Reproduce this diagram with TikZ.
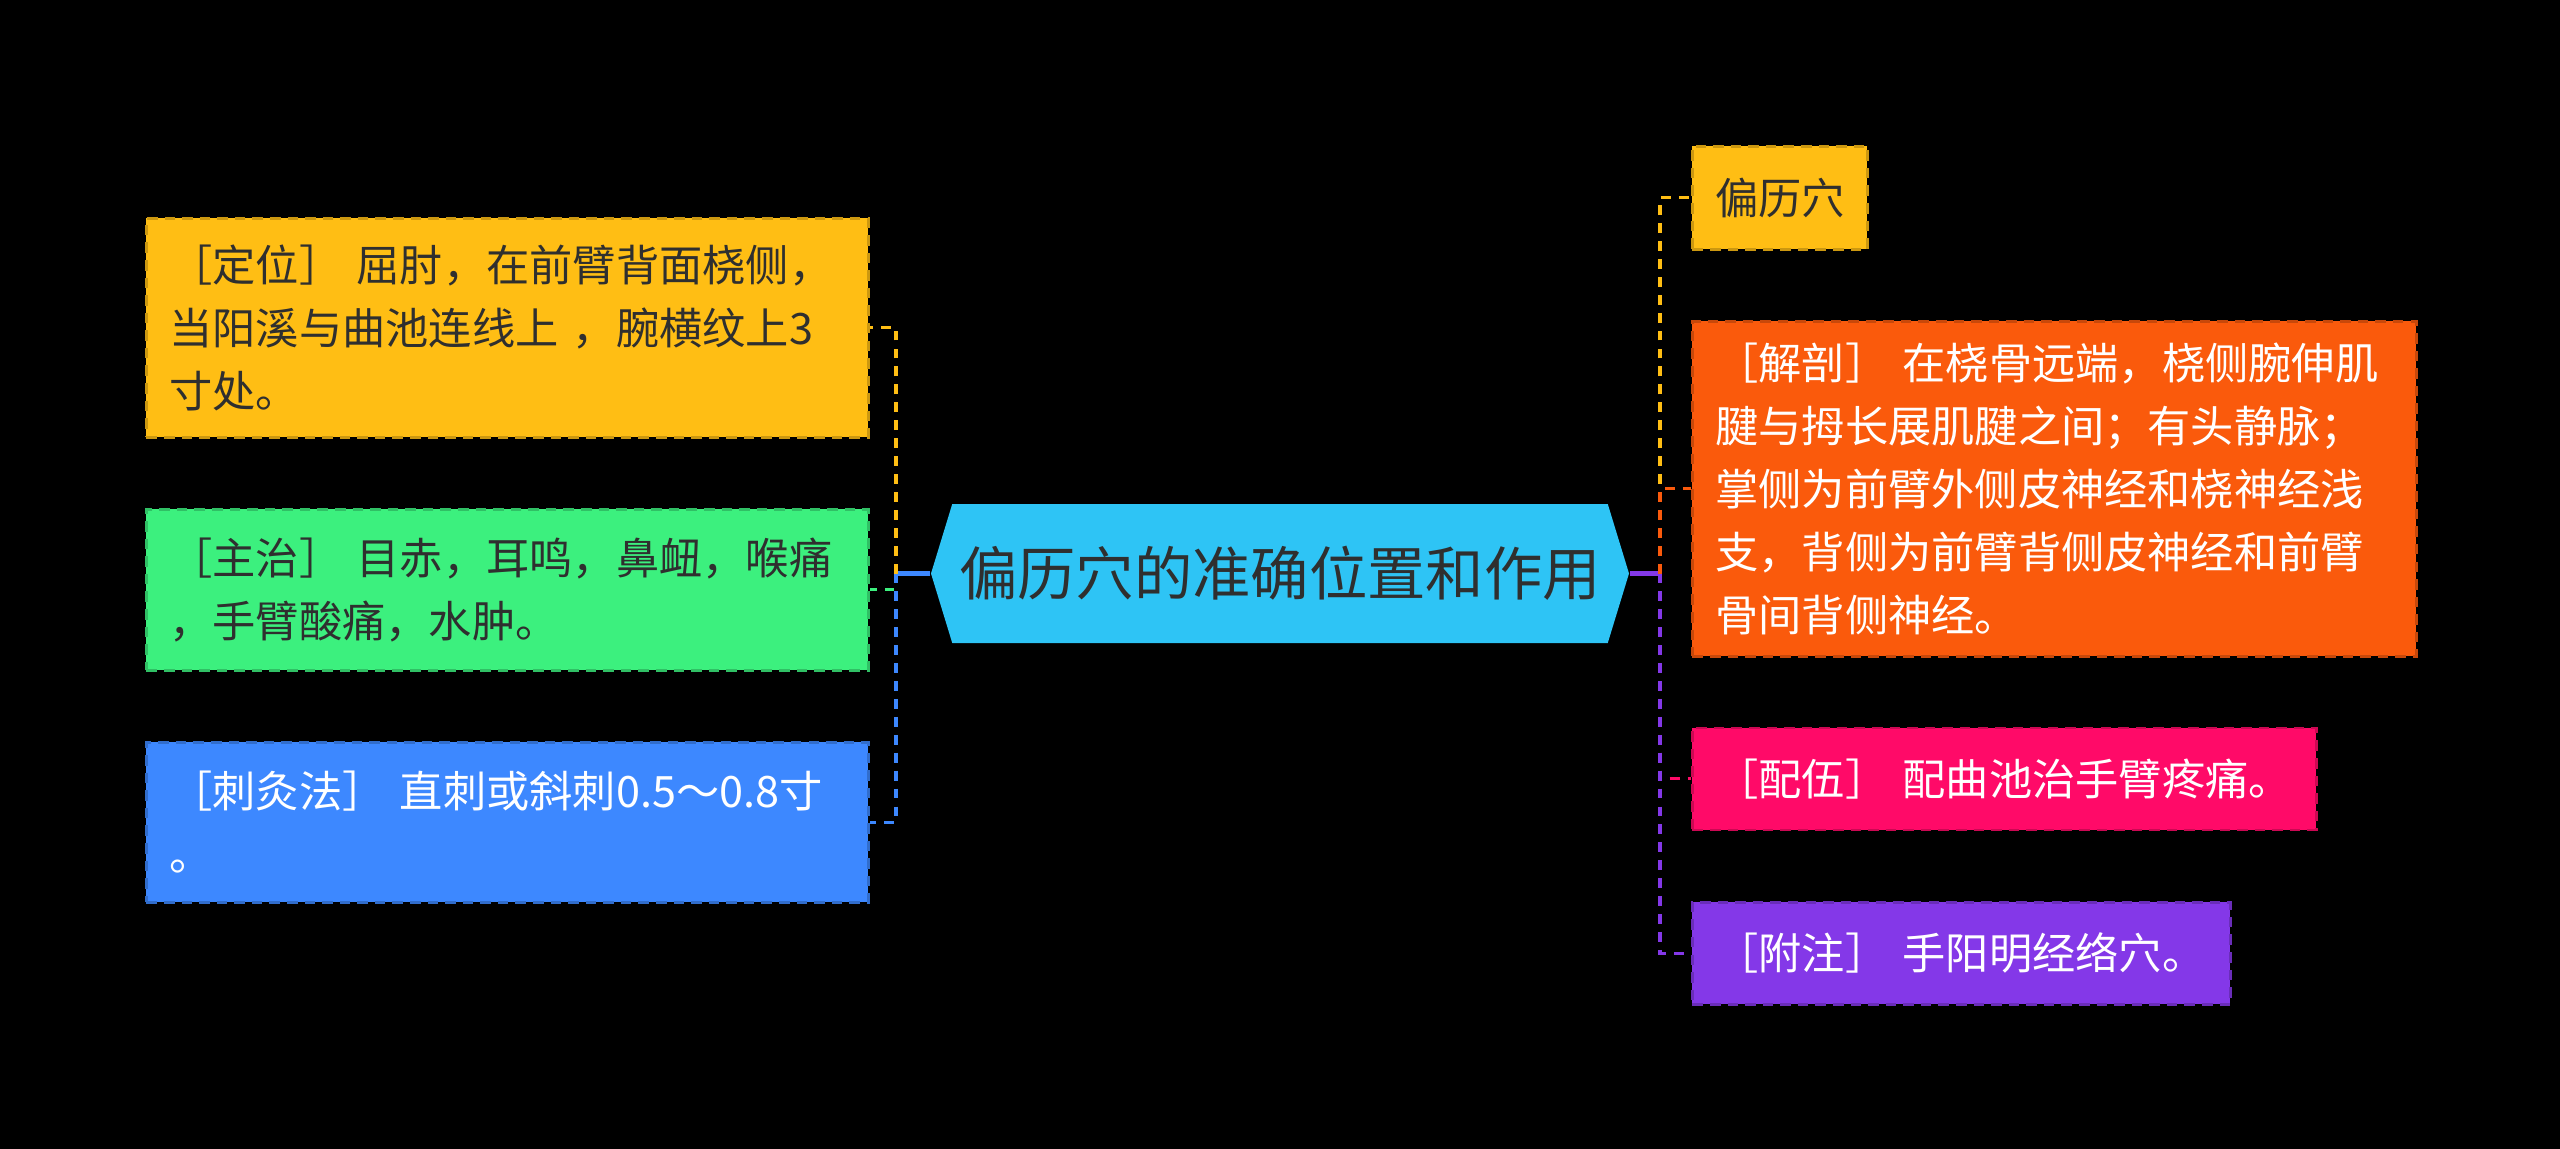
\documentclass[tikz,border=0pt]{standalone}
\usepackage{fontspec}
\newfontfamily\cjk{Noto Sans CJK SC}
\usetikzlibrary{shapes.symbols}
\definecolor{mYellow}{HTML}{FFBE14}
\definecolor{mGreen}{HTML}{3CF07E}
\definecolor{mBlue}{HTML}{3D88FF}
\definecolor{mCyan}{HTML}{2EC4F5}
\definecolor{mOrange}{HTML}{FA5A0C}
\definecolor{mPink}{HTML}{FF0A68}
\definecolor{mPurple}{HTML}{8438E8}
\definecolor{mDark}{HTML}{2F2F2F}

\begin{document}
\begin{tikzpicture}[
  x=1cm, y=-1cm,
  every node/.style={font=\cjk},
  topic/.style={
    signal, signal to=west and east,
    signal pointer angle=146,
    fill=mCyan, text=mDark,
    minimum width=6.98cm, minimum height=1.39cm,
    inner sep=0pt,
    font=\cjk\fontsize{16.6}{20}\selectfont
  },
  leaf/.style={
    rectangle, anchor=north west, align=left,
    inner xsep=0.23cm, inner ysep=0pt,
    line width=0.8pt, dash pattern=on 3pt off 2pt,
    font=\cjk\fontsize{12.3}{17.9}\selectfont
  },
  trunk/.style={line width=1.3pt},
  twig/.style={line width=0.9pt, dash pattern=on 2.8pt off 2.3pt}
]

\fill[black] (0,0) rectangle (25.6,11.49);
\useasboundingbox (0,0) rectangle (25.6,11.49);

\node[topic] (root) at (12.80,5.735) {偏历穴的准确位置和作用};

\node[leaf, fill=mYellow, draw=mYellow!80!black, text=mDark,
  text width=6.76cm, minimum height=2.19cm] (dingwei) at (1.45,2.17)
{［定位］ 屈肘，在前臂背面桡侧，\\当阳溪与曲池连线上 ，腕横纹上3\\寸处。};

\node[leaf, fill=mGreen, draw=mGreen!80!black, text=mDark,
  text width=6.76cm, minimum height=1.61cm] (zhuzhi) at (1.45,5.08)
{［主治］ 目赤，耳鸣，鼻衄，喉痛\\，手臂酸痛，水肿。};

\node[leaf, fill=mBlue, draw=mBlue!80!black, text=white,
  text width=6.76cm, minimum height=1.60cm] (cijiu) at (1.45,7.41)
{［刺灸法］ 直刺或斜刺0.5～0.8寸\\。};

\node[leaf, fill=mYellow, draw=mYellow!80!black, text=mDark,
  text width=1.29cm, minimum height=1.03cm] (pianli) at (16.91,1.45)
{偏历穴};

\node[leaf, fill=mOrange, draw=mOrange!80!black, text=white,
  text width=6.78cm, minimum height=3.35cm] (jiepou) at (16.91,3.20)
{［解剖］ 在桡骨远端，桡侧腕伸肌\\腱与拇长展肌腱之间；有头静脉；\\掌侧为前臂外侧皮神经和桡神经浅\\支，背侧为前臂背侧皮神经和前臂\\骨间背侧神经。};

\node[leaf, fill=mPink, draw=mPink!80!black, text=white,
  text width=5.78cm, minimum height=1.02cm] (peiwu) at (16.91,7.265)
{［配伍］ 配曲池治手臂疼痛。};

\node[leaf, fill=mPurple, draw=mPurple!80!black, text=white,
  text width=4.92cm, minimum height=1.02cm] (fuzhu) at (16.91,9.01)
{［附注］ 手阳明经络穴。};

\coordinate (lj) at (8.96,5.735);
\coordinate (rj) at (16.60,5.735);

\draw[trunk, mBlue] (root.west) -- (lj);
\draw[twig, mYellow] (lj) |- (dingwei.east);
\draw[twig, mGreen] (lj) |- (zhuzhi.east);
\draw[twig, mBlue] (lj) |- (cijiu.east);

\draw[trunk, mPurple] (root.east) -- (rj);
\draw[twig, mYellow] (rj) |- (pianli.west);
\draw[twig, mOrange] (rj) |- (jiepou.west);
\draw[twig, mPink] (rj) |- (peiwu.west);
\draw[twig, mPurple] (rj) |- (fuzhu.west);

\end{tikzpicture}
\end{document}
